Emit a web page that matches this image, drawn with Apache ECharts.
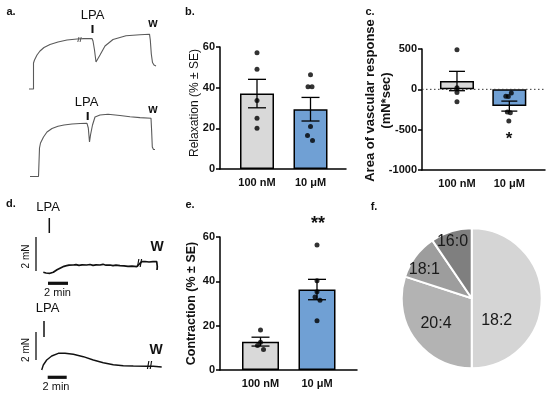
<!DOCTYPE html>
<html><head><meta charset="utf-8">
<script src="https://cdn.jsdelivr.net/npm/echarts@6/dist/echarts.min.js"></script>
<style>html,body{margin:0;padding:0;background:#fff}#c{width:550px;height:397px}</style>
</head><body><div id="c"></div>
<script>
// ---------- data ----------
const groups = ['100 nM', '10 μM'];
// panel b: relaxation (% ± SE)
const bMean = [37.1, 29.4];
const bSE = [7.0, 5.8];
const bPts100 = [57.2, 49.1, 33.7, 25.0, 20.1];
const bPts10 = [46.3, 40.4, 40.4, 20.9, 16.5, 14.0];
const bTicks = [0, 20, 40, 60];
// panel c: area of vascular response (mN*sec)
const cMean = [103, -208];
const cSE = [120, 62];
const cPts100 = [490, 20, -40, -155];
const cPts10 = [-46, -85, -90, -280, -290, -393];
const cTicks = [-1000, -500, 0, 500];
// panel e: contraction (% ± SE)
const eMean = [12.8, 36.3];
const eSE = [2.0, 4.6];
const ePts100 = [18.0, 12.5, 11.0, 9.3];
const ePts10 = [56.4, 40.3, 35.3, 32.9, 31.5, 22.2];
const eTicks = [0, 20, 40, 60];
// panel f: fatty acid composition
const fLabels = ['18:2', '20:4', '18:1', '16:0'];
const fShares = [50, 30, 10.5, 9.5];
// tension traces [time, tension] (arbitrary units)
const traceA1 = [[1,1],[5.5,1],[5.5,27],[6.5,30],[9,35],[12,39],[16,42.5],[22,45.5],[30,48],[39,50],[49,51],[56,51.4],[64,51.5],[65,49],[66.5,40],[68,28],[69.5,30],[72,35],[77,44],[85,50.5],[98,54.3],[112,55.3],[121.5,55.8],[122.3,50],[123.3,36],[124.5,27.5],[126,25],[128,24]];
const traceA2 = [[2,3.5],[10.5,3.5],[11.5,32],[12.5,37],[15.5,43],[19,48],[24,51.5],[30,53.7],[36,55],[44,56],[52,56.5],[59,56.7],[60.3,52],[61.5,38],[62.5,45],[64.5,55],[67,63],[72,65],[80,65.7],[92,64.5],[102,63.2],[112,62.4],[123,61.7],[123.6,50],[124.3,33],[125.5,30.5],[127,30.5]];
const traceD1 = [[3.3,2.7],[6,2],[8,2.5],[10,1.7],[12,2.4],[13.3,2.7],[15,4],[17,5.2],[20,6.7],[22,7.4],[24,8.7],[26.7,9.3],[29,9.8],[31,9.2],[33.3,10],[36,10.4],[39,9.7],[42,10.2],[46.7,10],[50,10.5],[53,9.6],[56,10.2],[60,10],[63,10.7],[66,9.8],[70,10],[73,9.4],[76,9.9],[80,9.3],[84,9.1],[88,8.6],[92,8.8],[96.7,8.3],[101.7,13.3],[105,13.5],[109,13],[113,13.4],[116.7,13.3],[117.3,8.3],[117,5]];
const traceD2 = [[1.7,5],[3.3,10],[6.7,15],[11.7,19],[18.3,21.7],[25,21.7],[33.3,20.7],[43.3,18.3],[53.3,15],[63.3,12.3],[73.3,10.3],[83.3,9.3],[93.3,9],[106.7,8.7],[113.3,8.7],[121.7,8]];

// ---------- styles ----------
const FONT = 'Arial, "Liberation Sans", sans-serif';
const barColors = ['#d9d9d9', '#70a0d4'];
const pieColors = ['#d5d5d5', '#b3b3b3', '#9d9d9d', '#7f7f7f'];
const pieLabelShift = [[-13, 22], [-5, 3], [-17, -6], [-8, -20]];

const chart = echarts.init(document.getElementById('c'), null, {renderer: 'canvas'});

const grids = [
  {left: 28, top: 30, width: 130, height: 60},   // 0 a1
  {left: 28, top: 110, width: 130, height: 70},  // 1 a2
  {left: 40, top: 255, width: 125, height: 20},  // 2 d1
  {left: 40, top: 345, width: 125, height: 30},  // 3 d2
  {left: 220, top: 47, width: 126, height: 122}, // 4 b axes
  {left: 230.25, top: 47, width: 107, height: 122}, // 5 b bars
  {left: 422, top: 49, width: 123, height: 121}, // 6 c axes
  {left: 430.8, top: 49, width: 104.7, height: 121}, // 7 c bars
  {left: 220, top: 237, width: 137, height: 133}, // 8 e axes
  {left: 232.25, top: 237, width: 113, height: 133} // 9 e bars
].map(g => Object.assign({containLabel: false, outerBoundsMode: 'none'}, g));

const hiddenVal = (min, max) => ({type: 'value', min, max, show: false});
const axisLineStyle = {show: true, lineStyle: {color: '#000', width: 1.5}};
const tickLabel = {color: '#111', fontSize: 11, fontWeight: 'bold', fontFamily: FONT, margin: 5, formatter: v => String(v)};

function visibleY(ticks, name, nameGap, nameStyle) {
  return {
    type: 'value', min: ticks[0], max: ticks[ticks.length - 1], interval: ticks[1] - ticks[0],
    axisLine: axisLineStyle, axisTick: {show: true, length: 4, lineStyle: {color: '#000', width: 1.5}},
    splitLine: {show: false}, axisLabel: tickLabel,
    name, nameLocation: 'middle', nameGap, nameMoveOverlap: false,
    nameTextStyle: Object.assign({color: '#111', fontFamily: FONT}, nameStyle)
  };
}
function lineX() {
  return {type: 'value', min: 0, max: 1, axisLine: Object.assign({onZero: false}, axisLineStyle),
    axisTick: {show: false}, axisLabel: {show: false}, splitLine: {show: false}};
}
function catX() {
  return {type: 'category', data: groups, axisLine: {show: false}, axisTick: {show: false},
    axisLabel: {color: '#111', fontSize: 11, fontWeight: 'bold', fontFamily: FONT, margin: 8}};
}

const xAxis = [
  Object.assign(hiddenVal(0, 130), {gridIndex: 0}),
  Object.assign(hiddenVal(0, 130), {gridIndex: 1}),
  Object.assign(hiddenVal(0, 125), {gridIndex: 2}),
  Object.assign(hiddenVal(0, 125), {gridIndex: 3}),
  Object.assign(lineX(), {gridIndex: 4}),
  Object.assign(catX(), {gridIndex: 5}),
  Object.assign(lineX(), {gridIndex: 6}),
  Object.assign(catX(), {gridIndex: 7}),
  Object.assign(lineX(), {gridIndex: 8}),
  Object.assign(catX(), {gridIndex: 9})
];
const yAxis = [
  Object.assign(hiddenVal(0, 60), {gridIndex: 0}),
  Object.assign(hiddenVal(0, 70), {gridIndex: 1}),
  Object.assign(hiddenVal(0, 20), {gridIndex: 2}),
  Object.assign(hiddenVal(0, 30), {gridIndex: 3}),
  Object.assign(visibleY(bTicks, 'Relaxation (% ± SE)', 19, {fontSize: 12, fontWeight: 'normal', padding: [0, 0, 0, 10]}), {gridIndex: 4}),
  Object.assign(hiddenVal(bTicks[0], bTicks[bTicks.length - 1]), {gridIndex: 5}),
  Object.assign(visibleY(cTicks, 'Area of vascular response\n(mN*sec)', 28, {fontSize: 13, fontWeight: 'bold', lineHeight: 16, padding: [0, 0, 0, 18]}), {gridIndex: 6}),
  Object.assign(hiddenVal(cTicks[0], cTicks[cTicks.length - 1]), {gridIndex: 7}),
  Object.assign(visibleY(eTicks, 'Contraction (% ± SE)', 22, {fontSize: 12.5, fontWeight: 'bold'}), {gridIndex: 8}),
  Object.assign(hiddenVal(eTicks[0], eTicks[eTicks.length - 1]), {gridIndex: 9})
];

function trace(data, idx, color, width) {
  return {type: 'line', xAxisIndex: idx, yAxisIndex: idx, data, symbol: 'none', silent: true,
    lineStyle: {color, width}, z: 3};
}
function bars(means, idx, width) {
  return {type: 'bar', xAxisIndex: idx, yAxisIndex: idx, barWidth: width, silent: true,
    data: means.map((v, i) => ({value: v, itemStyle: {color: barColors[i]}})),
    itemStyle: {borderColor: '#000', borderWidth: 1.5}};
}
function errBars(means, ses, idx, capHalf) {
  return {type: 'custom', xAxisIndex: idx, yAxisIndex: idx, silent: true, z: 3,
    data: means.map((m, i) => [i, m - ses[i], m + ses[i]]),
    renderItem: (params, api) => {
      const x = api.value(0);
      const lo = api.coord([x, api.value(1)]), hi = api.coord([x, api.value(2)]);
      const st = {stroke: '#000', lineWidth: 1.3};
      return {type: 'group', children: [
        {type: 'line', shape: {x1: lo[0], y1: lo[1], x2: hi[0], y2: hi[1]}, style: st},
        {type: 'line', shape: {x1: lo[0] - capHalf, y1: lo[1], x2: lo[0] + capHalf, y2: lo[1]}, style: st},
        {type: 'line', shape: {x1: hi[0] - capHalf, y1: hi[1], x2: hi[0] + capHalf, y2: hi[1]}, style: st}
      ]};
    }};
}
function dots(pts, cat, idx, jitter) {
  return {type: 'scatter', xAxisIndex: idx, yAxisIndex: idx, symbolSize: 5, silent: true, z: 4,
    itemStyle: {color: '#000'},
    data: pts.map((v, i) => ({value: [cat, v], symbolOffset: [jitter[i] || 0, 0]}))};
}

const series = [
  trace(traceA1, 0, '#5a5a5a', 1.1),
  trace(traceA2, 1, '#5a5a5a', 1.1),
  trace(traceD1, 2, '#111', 1.7),
  trace(traceD2, 3, '#111', 1.4),
  // b
  bars(bMean, 5, 34),
  errBars(bMean, bSE, 5, 9),
  dots(bPts100, 0, 5, [0, 0, 0, 0, 0]),
  dots(bPts10, 1, 5, [0, -2.5, 1.5, 0, -3, 2]),
  // c zero reference
  {type: 'line', xAxisIndex: 6, yAxisIndex: 6, data: [[0, 0], [1, 0]], symbol: 'none', silent: true,
    lineStyle: {color: '#333', width: 1, type: [1.5, 2.5]}},
  bars(cMean, 7, 34),
  errBars(cMean, cSE, 7, 8),
  dots(cPts100, 0, 7, [0, 0, 0, 0]),
  dots(cPts10, 1, 7, [2, -3.5, -1, -2, 1, -0.5]),
  // e
  bars(eMean, 9, 37),
  errBars(eMean, eSE, 9, 9),
  dots(ePts100, 0, 9, [0, 0, -3, 3]),
  dots(ePts10, 1, 9, [0, 0, 0, -2, 3, 0]),
  // f
  {type: 'pie', center: [471.7, 298.3], radius: 70, startAngle: 90, clockwise: true, silent: true,
    itemStyle: {borderColor: '#fff', borderWidth: 2},
    label: {show: true, position: 'inside', fontSize: 16, color: '#1a1a1a', fontFamily: FONT, textBorderWidth: 0},
    labelLine: {show: false},
    labelLayout: p => ({dx: pieLabelShift[p.dataIndex][0], dy: pieLabelShift[p.dataIndex][1]}),
    data: fLabels.map((n, i) => ({name: n, value: fShares[i], itemStyle: {color: pieColors[i]}}))}
];

function txt(text, x, y, size, weight, extra) {
  return Object.assign({type: 'text', x, y, silent: true,
    style: {text, fontSize: size, fontWeight: weight || 'normal', fontFamily: FONT, fill: '#111',
      align: 'center', verticalAlign: 'middle'}}, extra || {});
}
function ln(x1, y1, x2, y2, w, color) {
  return {type: 'line', silent: true, shape: {x1, y1, x2, y2}, style: {stroke: color || '#111', lineWidth: w}};
}

const graphic = [
  // panel letters
  txt('a.', 11, 12, 11, 'bold'), txt('b.', 190, 12, 11, 'bold'), txt('c.', 370, 12, 11, 'bold'),
  txt('d.', 11, 204, 11, 'bold'), txt('e.', 190, 205, 11, 'bold'), txt('f.', 374, 207, 11, 'bold'),
  // panel a annotations
  txt('LPA', 92.5, 15, 13), ln(92.5, 25, 92.5, 33, 2),
  txt('w', 153, 24, 12, 'bold'), txt('//', 79.5, 40, 8, 'bold', {style: {text: '//', fontSize: 8, fontWeight: 'bold', fill: '#555', align: 'center', verticalAlign: 'middle'}}),
  txt('LPA', 86.5, 102.5, 13), ln(87.7, 112, 87.7, 120, 2),
  txt('w', 153, 110, 12, 'bold'),
  // panel d annotations
  txt('LPA', 48, 207, 13), ln(49.3, 218, 49.3, 233, 1.5),
  ln(36, 237, 36, 271, 1.3), txt('2 mN', 26.5, 256.5, 10, 'normal', {rotation: Math.PI / 2}),
  ln(48, 283.3, 68, 283.3, 3.2), txt('2 min', 57.5, 292.5, 11),
  txt('W', 157, 247.5, 14, 'bold'), txt('//', 139.5, 264, 10, 'bold'),
  txt('LPA', 47.5, 308.5, 13), ln(44, 321, 44, 337, 1.5),
  ln(36, 332, 36, 360, 1.3), txt('2 mN', 26.5, 350, 10, 'normal', {rotation: Math.PI / 2}),
  ln(47.7, 377.3, 66.7, 377.3, 3.2), txt('2 min', 56, 387, 11),
  txt('W', 156, 350, 14, 'bold'), txt('//', 149.5, 366, 10, 'bold'),
  // significance
  txt('*', 509, 139, 17, 'bold'), txt('**', 318, 224, 18, 'bold')
];

chart.setOption({
  animation: false,
  backgroundColor: '#fff',
  textStyle: {fontFamily: FONT},
  grid: grids, xAxis, yAxis, series, graphic
});
</script></body></html>
